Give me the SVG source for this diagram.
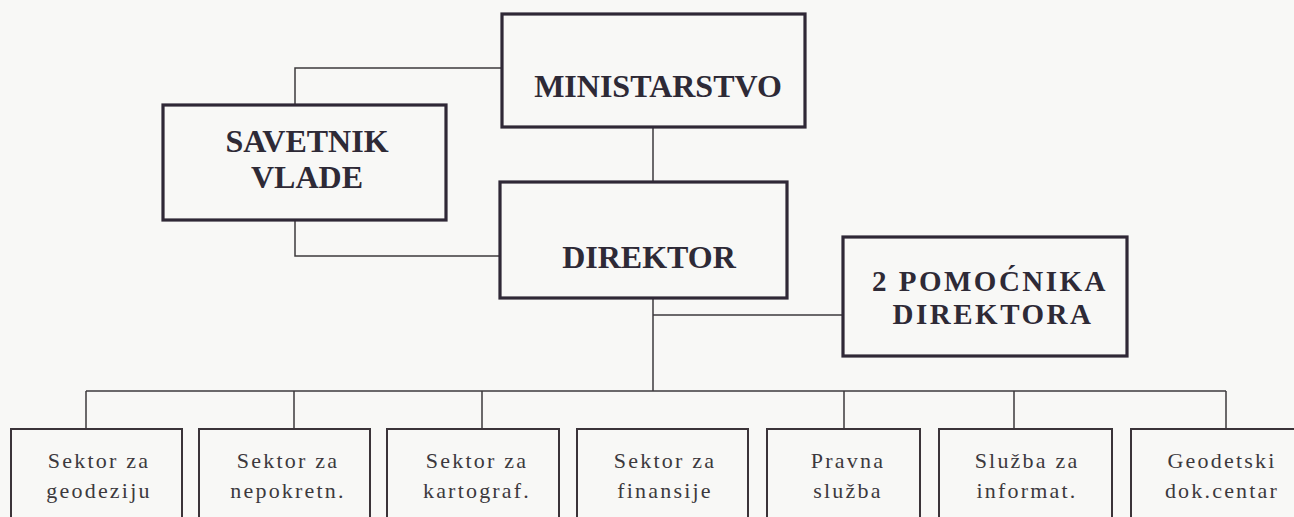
<svg xmlns="http://www.w3.org/2000/svg" width="1294" height="517" viewBox="0 0 1294 517">
<style>
.bg{fill:#f8f8f6}
.big rect{fill:none;stroke:#2f2836;stroke-width:3.2}
.small rect{fill:none;stroke:#3b3439;stroke-width:2}
.big text{font-family:"Liberation Serif","Times New Roman",serif;font-weight:bold;font-size:32px;fill:#2e2a36;text-anchor:middle}
.big text.two{font-size:29px;letter-spacing:2.5px}
.small text{font-family:"Liberation Serif","Times New Roman",serif;font-size:22px;letter-spacing:2.2px;fill:#3c393d;text-anchor:middle}
#connectors path{fill:none;stroke:#3d3a3c;stroke-width:1.5}
</style>
<rect class="bg" x="0" y="0" width="1294" height="517"/>
<g id="connectors">
<path d="M502 68 H295 V105"/>
<path d="M295 220 V256 H500"/>
<path d="M653 127 V182"/>
<path d="M653 298 V391"/>
<path d="M653 315 H843"/>
<path d="M86 391 H1226"/>
<path d="M86 391 V429 M294 391 V429 M482 391 V429 M844 391 V429 M1014 391 V429 M1226 391 V429"/>
</g>
<g id="ministarstvo" class="big"><rect x="502" y="14" width="303" height="113"/><text x="658" y="97">MINISTARSTVO</text></g>
<g id="savetnik" class="big"><rect x="163" y="105" width="283" height="115"/><text x="307" y="152">SAVETNIK</text><text x="307" y="188">VLADE</text></g>
<g id="direktor" class="big"><rect x="500" y="182" width="287" height="116"/><text x="649" y="268">DIREKTOR</text></g>
<g id="pomocnika" class="big"><rect x="843" y="237" width="284" height="119"/><text class="two" x="990" y="291">2 POMOĆNIKA</text><text class="two" x="993" y="324">DIREKTORA</text></g>
<g id="s1" class="small"><rect x="11" y="429" width="171" height="100"/><text x="99" y="468">Sektor za</text><text x="99" y="498">geodeziju</text></g>
<g id="s2" class="small"><rect x="199" y="429" width="171" height="100"/><text x="288" y="468">Sektor za</text><text x="288" y="498">nepokretn.</text></g>
<g id="s3" class="small"><rect x="387" y="429" width="172" height="100"/><text x="477" y="468">Sektor za</text><text x="477" y="498">kartograf.</text></g>
<g id="s4" class="small"><rect x="577" y="429" width="171" height="100"/><text x="665" y="468">Sektor za</text><text x="665" y="498">finansije</text></g>
<g id="s5" class="small"><rect x="767" y="429" width="153" height="100"/><text x="848" y="468">Pravna</text><text x="848" y="498">služba</text></g>
<g id="s6" class="small"><rect x="939" y="429" width="173" height="100"/><text x="1027" y="468">Služba za</text><text x="1027" y="498">informat.</text></g>
<g id="s7" class="small"><rect x="1131" y="429" width="175" height="100"/><text x="1222" y="468">Geodetski</text><text x="1222" y="498">dok.centar</text></g>
</svg>
